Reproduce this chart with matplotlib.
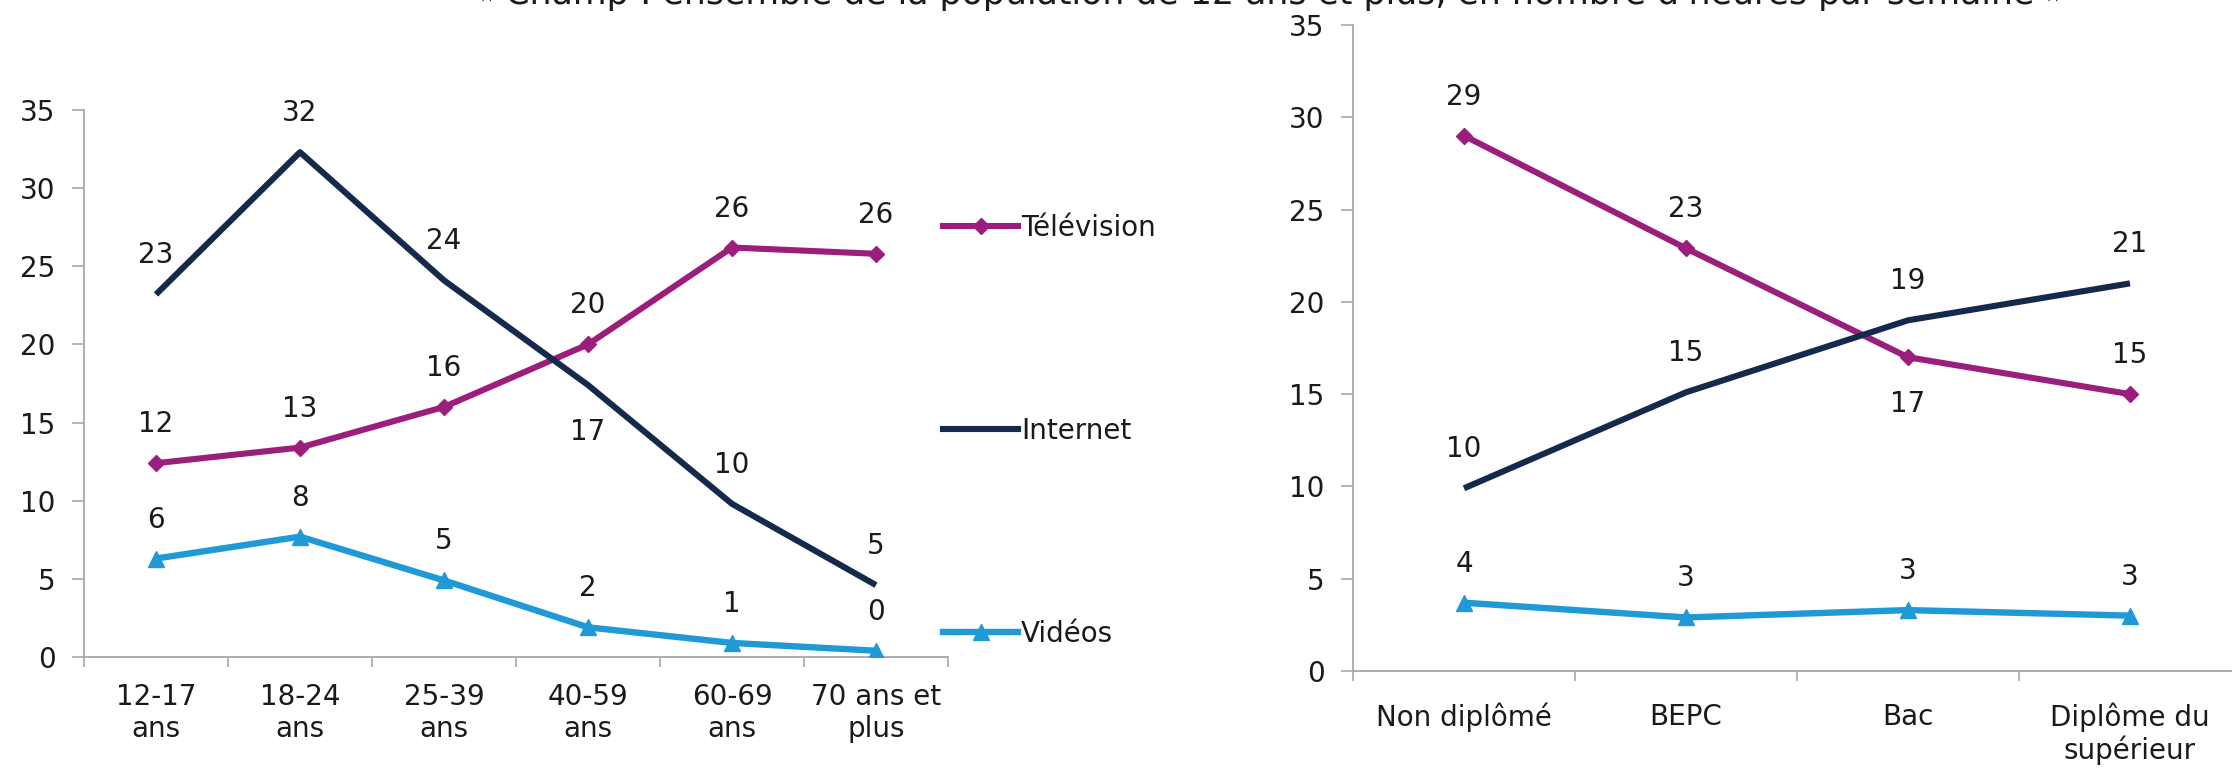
import matplotlib
matplotlib.use("Agg")
import matplotlib.pyplot as plt
from matplotlib.lines import Line2D

# ---------------- data ----------------
age_groups = ["12-17\nans", "18-24\nans", "25-39\nans", "40-59\nans", "60-69\nans", "70 ans et\nplus"]
age_tv = [12.4, 13.4, 16.0, 20.0, 26.2, 25.8]
age_internet = [23.2, 32.3, 24.1, 17.4, 9.8, 4.6]
age_videos = [6.3, 7.7, 4.9, 1.9, 0.9, 0.4]

diplomas = ["Non diplômé", "BEPC", "Bac", "Diplôme du\nsupérieur"]
dip_tv = [29.0, 22.9, 17.0, 15.0]
dip_internet = [9.9, 15.1, 19.0, 21.0]
dip_videos = [3.7, 2.9, 3.3, 3.0]

series_names = ["Télévision", "Internet", "Vidéos"]
title = "« Champ : ensemble de la population de 12 ans et plus, en nombre d'heures par semaine »"

# ---------------- style ----------------
plt.rcParams["font.family"] = ["DejaVu Sans"]
C_TV = "#9B1E7C"
C_NET = "#15294D"
C_VID = "#1F9AD6"
AX_COL = "#A8A8A8"
TXT = "#1A1A1A"
FS = 20

W, H = 2232, 768
fig = plt.figure(figsize=(W / 100, H / 100), dpi=100)

def px_axes(x0, x1, y_top, y_bot):
    return fig.add_axes([x0 / W, 1 - y_bot / H, (x1 - x0) / W, (y_bot - y_top) / H])

ax1 = px_axes(84, 948, 110, 657)
ax2 = px_axes(1353, 2241, 25, 671)

styles = {
    "Télévision": dict(color=C_TV, marker="D", markersize=8, lw=4.4),
    "Internet": dict(color=C_NET, marker=None, lw=4.4),
    "Vidéos": dict(color=C_VID, marker="^", markersize=11, lw=4.6),
}

def draw(ax, cats, data, below, xpad):
    x = list(range(len(cats)))
    for name, vals in zip(series_names, data):
        st = styles[name]
        ax.plot(x, vals, color=st["color"], lw=st["lw"], marker=st.get("marker"),
                markersize=st.get("markersize", 0), solid_capstyle="butt", zorder=3)
        for i, v in enumerate(vals):
            off = -47 if (name, i) in below else 39
            ax.annotate(f"{round(v)}", (i, v), xytext=(0, off), textcoords="offset pixels",
                        ha="center", va="center", fontsize=FS, color=TXT)
    ax.set_xlim(-0.5, len(cats) - 0.5)
    ax.set_ylim(0, 35)
    ax.set_yticks(range(0, 36, 5))
    ax.set_xticks(x)
    ax.set_xticklabels(cats, fontsize=FS, color=TXT, linespacing=1.15)
    ax.set_xticks([i + 0.5 for i in range(-1, len(cats))], minor=True)
    ax.tick_params(axis="x", which="major", length=0, pad=xpad)
    ax.tick_params(axis="x", which="minor", length=7, width=1.2, color=AX_COL, direction="out")
    ax.tick_params(axis="y", length=8.5, width=1.2, color=AX_COL, labelsize=FS,
                   labelcolor=TXT, pad=12)
    for s in ["top", "right"]:
        ax.spines[s].set_visible(False)
    for s in ["left", "bottom"]:
        ax.spines[s].set_color(AX_COL)
        ax.spines[s].set_linewidth(1.3)
    ax.set_facecolor("none")

draw(ax1, age_groups, [age_tv, age_internet, age_videos], {("Internet", 3)}, 19)
draw(ax2, diplomas, [dip_tv, dip_internet, dip_videos], {("Télévision", 2)}, 23)

# legend for left chart
handles = []
for name in series_names:
    st = styles[name]
    handles.append(Line2D([], [], color=st["color"], lw=st["lw"], marker=st.get("marker"),
                          markersize=st.get("markersize", 0)))
fig.legend(handles, series_names, loc="center left", bbox_to_anchor=(943 / W, 1 - 431 / H),
           bbox_transform=fig.transFigure, frameon=False, fontsize=FS, labelspacing=6.3,
           handlelength=2.7, handletextpad=0.1, borderpad=0, borderaxespad=0, labelcolor=TXT)

# cut-off title at the very top (only the bottom of the glyphs is visible)
fig.text(1270 / W, 1 - 4 / H, title, ha="center", va="baseline", fontsize=25, color=TXT)

fig.savefig("out.png", dpi=100)
